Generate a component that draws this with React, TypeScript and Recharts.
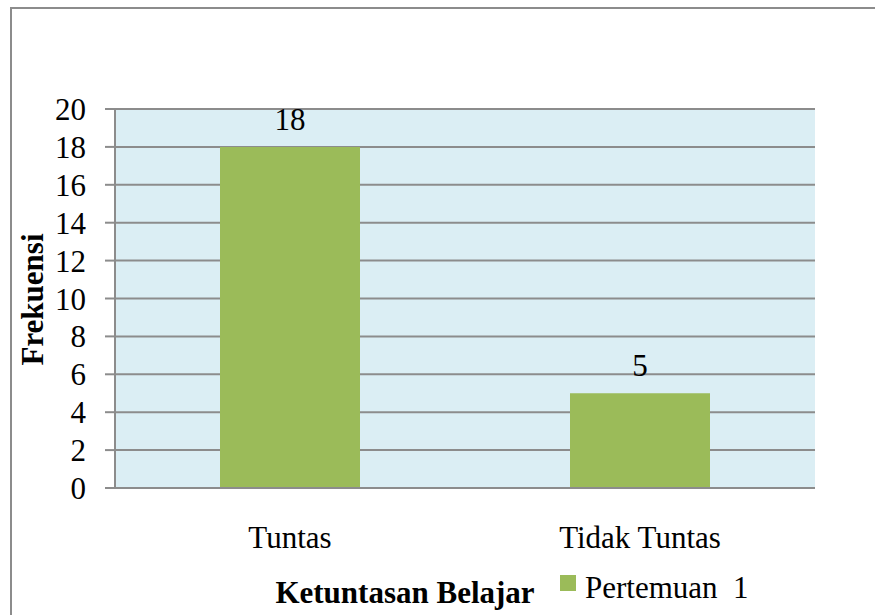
import { BarChart, Bar, XAxis, YAxis, CartesianGrid, LabelList, Label } from "recharts";

const categories = ["Tuntas", "Tidak Tuntas"];
const pertemuan1 = [18, 5];
const yTicks = [0, 2, 4, 6, 8, 10, 12, 14, 16, 18, 20];
const seriesName = "Pertemuan  1";

const data = categories.map((c, i) => ({ kategori: c, p1: pertemuan1[i] }));

const FONT = "'Liberation Serif', 'Times New Roman', serif";
const FS = 31;
const GREEN = "#9BBB59";
const GRID = "#8c8c8c";

const YTick = ({ x, y, payload }: any) => (
  <text x={x} y={y} dy={11} textAnchor="end" style={{ fontFamily: FONT, fontSize: FS }} fill="#000">
    {payload.value}
  </text>
);

const XTick = ({ x, y, payload }: any) => (
  <text x={x} y={y} dy={17} textAnchor="middle" style={{ fontFamily: FONT, fontSize: FS }} fill="#000">
    {payload.value}
  </text>
);

const BarValue = ({ x, y, width, value }: any) => (
  <text x={x + width / 2} y={y - 17} textAnchor="middle" style={{ fontFamily: FONT, fontSize: FS }} fill="#000">
    {value}
  </text>
);

export default function App() {
  return (
    <div style={{ position: "absolute", left: 0, top: 0, width: 875, height: 615, background: "#fff", overflow: "hidden", fontFamily: FONT }}>
      {/* outer frame */}
      <div style={{ position: "absolute", left: 10, top: 7, width: 900, height: 700, borderLeft: "2px solid #8c8c8c", borderTop: "2px solid #8c8c8c" }} />
      <BarChart
        width={875}
        height={615}
        data={data}
        margin={{ top: 109, right: 60, bottom: 0, left: 35 }}
        barCategoryGap="30%"
        style={{ position: "absolute", left: 0, top: 0 }}
      >
        <CartesianGrid vertical={false} stroke={GRID} strokeWidth={2} fill="#DBEEF4" />
        <XAxis
          dataKey="kategori"
          height={127}
          tickLine={false}
          tickSize={0}
          tickMargin={43}
          axisLine={{ stroke: GRID, strokeWidth: 2 }}
          tick={<XTick />}
        >
          <Label
            content={({ viewBox }: any) => (
              <text
                x={viewBox.x + viewBox.width / 2 - 60}
                y={viewBox.y + 115}
                textAnchor="middle"
                style={{ fontFamily: FONT, fontSize: FS, fontWeight: "bold" }}
                fill="#000"
              >
                Ketuntasan Belajar
              </text>
            )}
          />
        </XAxis>
        <YAxis
          width={80}
          domain={[0, 20]}
          ticks={yTicks}
          interval={0}
          tickSize={10}
          tickMargin={19}
          tickLine={{ stroke: GRID, strokeWidth: 2 }}
          axisLine={{ stroke: GRID, strokeWidth: 2 }}
          tick={<YTick />}
        >
          <Label
            content={({ viewBox }: any) => {
              const x = viewBox.x + 8;
              const y = viewBox.y + viewBox.height / 2 + 1;
              return (
                <text
                  x={x}
                  y={y}
                  transform={`rotate(-90 ${x} ${y})`}
                  textAnchor="middle"
                  style={{ fontFamily: FONT, fontSize: FS, fontWeight: "bold" }}
                  fill="#000"
                >
                  Frekuensi
                </text>
              );
            }}
          />
        </YAxis>
        <Bar dataKey="p1" name={seriesName} fill={GREEN} isAnimationActive={false}>
          <LabelList dataKey="p1" content={<BarValue />} />
        </Bar>
      </BarChart>
      {/* legend */}
      <span style={{ position: "absolute", left: 560, top: 575, width: 16, height: 16, background: GREEN }} />
      <span style={{ position: "absolute", left: 585, top: 572, fontFamily: FONT, fontSize: FS, lineHeight: 1, color: "#000", whiteSpace: "pre" }}>
        {seriesName}
      </span>
    </div>
  );
}
